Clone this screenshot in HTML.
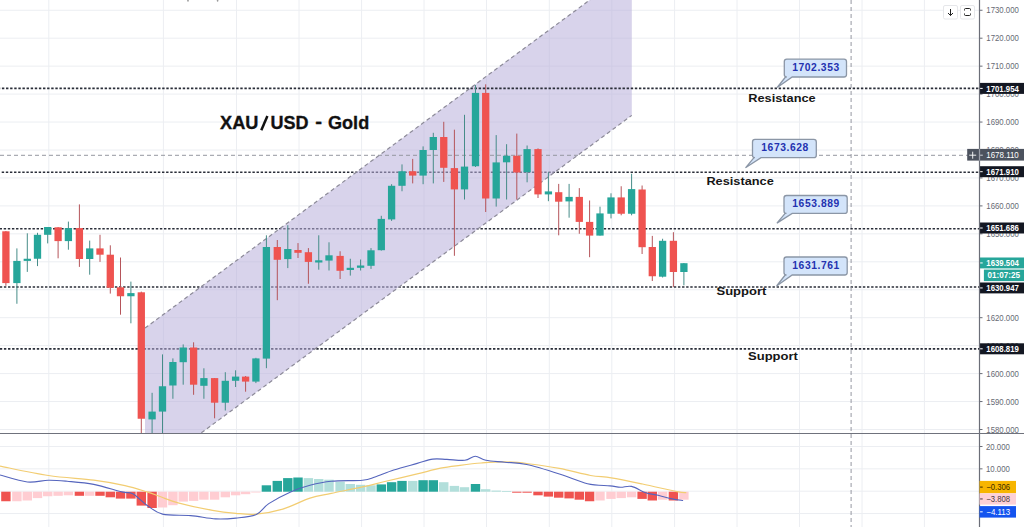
<!DOCTYPE html>
<html><head><meta charset="utf-8"><title>XAU/USD - Gold</title>
<style>
html,body{margin:0;padding:0;background:#fff;}
body{width:1024px;height:527px;overflow:hidden;font-family:"Liberation Sans",sans-serif;}
svg{display:block;}
text{font-family:"Liberation Sans",sans-serif;}
</style></head><body>
<svg width="1024" height="527" viewBox="0 0 1024 527">
<rect x="0" y="0" width="1024" height="527" fill="#ffffff"/>
<defs><clipPath id="mp"><rect x="0" y="0" width="979.5" height="433.5"/></clipPath><clipPath id="ip"><rect x="0" y="433.5" width="979.5" height="93.5"/></clipPath></defs>
<path d="M0 429.5 H979.5 M0 401.55 H979.5 M0 373.6 H979.5 M0 345.65 H979.5 M0 317.7 H979.5 M0 289.75 H979.5 M0 261.8 H979.5 M0 233.85 H979.5 M0 205.9 H979.5 M0 177.95 H979.5 M0 150 H979.5 M0 122.05 H979.5 M0 94.1 H979.5 M0 66.15 H979.5 M0 38.2 H979.5 M0 10.25 H979.5 M48.8 0 V527 M163.4 0 V527 M236.5 0 V527 M299 0 V527 M361.6 0 V527 M424 0 V527 M486.5 0 V527 M549.3 0 V527 M611.8 0 V527 M674.6 0 V527 M737 0 V527 M799.5 0 V527 M862 0 V527 M924.4 0 V527 M0 446.5 H979.5 M0 468.85 H979.5 M0 491.2 H979.5 M0 513.55 H979.5" stroke="#eceef2" stroke-width="1" fill="none"/>
<path d="M0 172.3 H979.5" stroke="#2a2e39" stroke-width="1.6" stroke-dasharray="2.4 1.71" stroke-dashoffset="2.4" fill="none"/>
<path d="M0 228.7 H979.5" stroke="#2a2e39" stroke-width="1.6" stroke-dasharray="2.4 1.71" stroke-dashoffset="0.4" fill="none"/>
<path d="M0 287 H979.5" stroke="#2a2e39" stroke-width="1.6" stroke-dasharray="2.4 1.71" stroke-dashoffset="0.2" fill="none"/>
<path d="M0 348.9 H979.5" stroke="#2a2e39" stroke-width="1.6" stroke-dasharray="2.4 1.71" stroke-dashoffset="0.2" fill="none"/>
<g clip-path="url(#mp)">
<polygon points="145,328.05 631.8,-30.97 631.8,115.36 145,474.37" fill="#b8afdb" fill-opacity="0.55"/>
<path d="M145 328.05 L631.8 -30.97 M145 474.37 L631.8 115.36" stroke="#8c8a98" stroke-width="1.2" stroke-dasharray="4 3" fill="none"/>
</g>
<path d="M0 88.4 H979.5" stroke="#2a2e39" stroke-width="1.6" stroke-dasharray="2.4 1.71" stroke-dashoffset="2.2" fill="none"/>
<path d="M851.1 0 V527 M0 155.3 H979.5" stroke="#9598a1" stroke-width="1" stroke-dasharray="4 3" fill="none"/>
<g clip-path="url(#mp)">
<path d="M5.9 231 V285.8" stroke="#b5545a" stroke-width="1"/><rect x="2.25" y="231.3" width="7.3" height="51.8" fill="#ef5350"/>
<path d="M16.9 248.4 V303.75" stroke="#468c88" stroke-width="1"/><rect x="13.25" y="260.9" width="7.3" height="22.2" fill="#26a69a"/>
<path d="M27.3 233.3 V271.9" stroke="#468c88" stroke-width="1"/><rect x="23.65" y="258.75" width="7.3" height="2.15" fill="#26a69a"/>
<path d="M37.5 232.8 V266.1" stroke="#468c88" stroke-width="1"/><rect x="33.85" y="234.8" width="7.3" height="23.95" fill="#26a69a"/>
<path d="M47.7 227 V243.4" stroke="#468c88" stroke-width="1"/><rect x="44.05" y="227" width="7.3" height="7.8" fill="#26a69a"/>
<path d="M58.1 227 V258.3" stroke="#b5545a" stroke-width="1"/><rect x="54.45" y="227.3" width="7.3" height="13.8" fill="#ef5350"/>
<path d="M68.4 221.6 V249.7" stroke="#468c88" stroke-width="1"/><rect x="64.75" y="228.1" width="7.3" height="13" fill="#26a69a"/>
<path d="M79.4 204.4 V266.9" stroke="#b5545a" stroke-width="1"/><rect x="75.75" y="228.1" width="7.3" height="30.9" fill="#ef5350"/>
<path d="M89.7 240.6 V274.7" stroke="#468c88" stroke-width="1"/><rect x="86.05" y="248.4" width="7.3" height="10.6" fill="#26a69a"/>
<path d="M100 234.8 V261.9" stroke="#b5545a" stroke-width="1"/><rect x="96.35" y="248.4" width="7.3" height="6.3" fill="#ef5350"/>
<path d="M110.3 245.3 V293.6" stroke="#b5545a" stroke-width="1"/><rect x="106.65" y="254.7" width="7.3" height="33.1" fill="#ef5350"/>
<path d="M120.5 257.5 V314.7" stroke="#b5545a" stroke-width="1"/><rect x="116.85" y="287.3" width="7.3" height="8.95" fill="#ef5350"/>
<path d="M130.9 281.6 V323.3" stroke="#468c88" stroke-width="1"/><rect x="127.25" y="293.1" width="7.3" height="3.15" fill="#26a69a"/>
<path d="M141.3 291.6 V440" stroke="#b5545a" stroke-width="1"/><rect x="137.65" y="292.3" width="7.3" height="126.45" fill="#ef5350"/>
<path d="M152.1 392.8 V440" stroke="#468c88" stroke-width="1"/><rect x="148.45" y="411.6" width="7.3" height="7.8" fill="#26a69a"/>
<path d="M162.5 354.4 V440" stroke="#468c88" stroke-width="1"/><rect x="158.85" y="386.25" width="7.3" height="25.35" fill="#26a69a"/>
<path d="M172.9 358.4 V398.75" stroke="#468c88" stroke-width="1"/><rect x="169.25" y="362" width="7.3" height="23.5" fill="#26a69a"/>
<path d="M183.2 344.4 V384.7" stroke="#468c88" stroke-width="1"/><rect x="179.55" y="347.5" width="7.3" height="14.7" fill="#26a69a"/>
<path d="M193.6 342.3 V394.8" stroke="#b5545a" stroke-width="1"/><rect x="189.95" y="347.5" width="7.3" height="37.2" fill="#ef5350"/>
<path d="M203.9 368.3 V398.75" stroke="#468c88" stroke-width="1"/><rect x="200.25" y="378.1" width="7.3" height="7.7" fill="#26a69a"/>
<path d="M214.6 378 V418.3" stroke="#b5545a" stroke-width="1"/><rect x="210.95" y="378.1" width="7.3" height="24.6" fill="#ef5350"/>
<path d="M225.3 372.2 V410.5" stroke="#468c88" stroke-width="1"/><rect x="221.65" y="380.8" width="7.3" height="21.9" fill="#26a69a"/>
<path d="M235.6 370.3 V387" stroke="#468c88" stroke-width="1"/><rect x="231.95" y="376.6" width="7.3" height="4.2" fill="#26a69a"/>
<path d="M245.6 376 V391.7" stroke="#b5545a" stroke-width="1"/><rect x="241.95" y="376.6" width="7.3" height="5" fill="#ef5350"/>
<path d="M255.9 357.8 V383.1" stroke="#468c88" stroke-width="1"/><rect x="252.25" y="358.4" width="7.3" height="23.2" fill="#26a69a"/>
<path d="M266.4 235.3 V368.2" stroke="#468c88" stroke-width="1"/><rect x="262.75" y="247" width="7.3" height="111.6" fill="#26a69a"/>
<path d="M277.3 240 V300.2" stroke="#b5545a" stroke-width="1"/><rect x="273.65" y="247" width="7.3" height="12.8" fill="#ef5350"/>
<path d="M287.8 225.2 V268.1" stroke="#468c88" stroke-width="1"/><rect x="284.15" y="249" width="7.3" height="10.1" fill="#26a69a"/>
<path d="M298 243.1 V258" stroke="#b5545a" stroke-width="1"/><rect x="294.35" y="250" width="7.3" height="2.8" fill="#ef5350"/>
<path d="M308.4 248.1 V283.75" stroke="#b5545a" stroke-width="1"/><rect x="304.75" y="252.2" width="7.3" height="9.7" fill="#ef5350"/>
<path d="M318.75 235.3 V269.7" stroke="#468c88" stroke-width="1"/><rect x="315.1" y="260.3" width="7.3" height="2.2" fill="#26a69a"/>
<path d="M329 242.3 V270.5" stroke="#468c88" stroke-width="1"/><rect x="325.35" y="255.3" width="7.3" height="5.3" fill="#26a69a"/>
<path d="M340.1 251.25 V279" stroke="#b5545a" stroke-width="1"/><rect x="336.45" y="255.9" width="7.3" height="14.9" fill="#ef5350"/>
<path d="M350.3 258.75 V275.6" stroke="#468c88" stroke-width="1"/><rect x="346.65" y="267.8" width="7.3" height="2.2" fill="#26a69a"/>
<path d="M360.6 259.5 V270.5" stroke="#468c88" stroke-width="1"/><rect x="356.95" y="265.5" width="7.3" height="2.3" fill="#26a69a"/>
<path d="M371 248.1 V268.9" stroke="#468c88" stroke-width="1"/><rect x="367.35" y="250.3" width="7.3" height="15.5" fill="#26a69a"/>
<path d="M381.3 215.8 V250.6" stroke="#468c88" stroke-width="1"/><rect x="377.65" y="218.9" width="7.3" height="31.3" fill="#26a69a"/>
<path d="M391.6 184.2 V220.9" stroke="#468c88" stroke-width="1"/><rect x="387.95" y="185.8" width="7.3" height="33.6" fill="#26a69a"/>
<path d="M402 164.4 V191.25" stroke="#468c88" stroke-width="1"/><rect x="398.35" y="171.25" width="7.3" height="14.55" fill="#26a69a"/>
<path d="M412.7 158.9 V183.4" stroke="#b5545a" stroke-width="1"/><rect x="409.05" y="171.25" width="7.3" height="4.35" fill="#ef5350"/>
<path d="M423.1 146.4 V184.2" stroke="#468c88" stroke-width="1"/><rect x="419.45" y="150" width="7.3" height="25.6" fill="#26a69a"/>
<path d="M433.3 132.8 V183.4" stroke="#468c88" stroke-width="1"/><rect x="429.65" y="137" width="7.3" height="13" fill="#26a69a"/>
<path d="M443.75 121.8 V181.9" stroke="#b5545a" stroke-width="1"/><rect x="440.1" y="137" width="7.3" height="30.8" fill="#ef5350"/>
<path d="M454.4 129.7 V255.8" stroke="#b5545a" stroke-width="1"/><rect x="450.75" y="168.1" width="7.3" height="21.3" fill="#ef5350"/>
<path d="M464.5 114.8 V199.5" stroke="#468c88" stroke-width="1"/><rect x="460.85" y="166.6" width="7.3" height="22.8" fill="#26a69a"/>
<path d="M475.5 85.1 V167" stroke="#468c88" stroke-width="1"/><rect x="471.85" y="92.9" width="7.3" height="73.35" fill="#26a69a"/>
<path d="M485.7 84.3 V212" stroke="#b5545a" stroke-width="1"/><rect x="482.05" y="92.9" width="7.3" height="105.6" fill="#ef5350"/>
<path d="M496.2 135.1 V206.6" stroke="#468c88" stroke-width="1"/><rect x="492.55" y="162.4" width="7.3" height="36.1" fill="#26a69a"/>
<path d="M506.6 144.2 V199.5" stroke="#468c88" stroke-width="1"/><rect x="502.95" y="155.75" width="7.3" height="6.55" fill="#26a69a"/>
<path d="M516.8 133.6 V199.5" stroke="#b5545a" stroke-width="1"/><rect x="513.15" y="155.75" width="7.3" height="16.75" fill="#ef5350"/>
<path d="M527.1 145.5 V182.3" stroke="#468c88" stroke-width="1"/><rect x="523.45" y="149.1" width="7.3" height="23.1" fill="#26a69a"/>
<path d="M538 148.4 V198" stroke="#b5545a" stroke-width="1"/><rect x="534.35" y="149.1" width="7.3" height="45.3" fill="#ef5350"/>
<path d="M548.4 172.2 V201.2" stroke="#468c88" stroke-width="1"/><rect x="544.75" y="191.4" width="7.3" height="3" fill="#26a69a"/>
<path d="M558.7 183.9 V235.3" stroke="#b5545a" stroke-width="1"/><rect x="555.05" y="192.2" width="7.3" height="9.5" fill="#ef5350"/>
<path d="M569.1 183.9 V217.7" stroke="#468c88" stroke-width="1"/><rect x="565.45" y="196.9" width="7.3" height="4.5" fill="#26a69a"/>
<path d="M579.3 188.1 V233.75" stroke="#b5545a" stroke-width="1"/><rect x="575.65" y="196.9" width="7.3" height="25" fill="#ef5350"/>
<path d="M589.6 200.5 V257.2" stroke="#b5545a" stroke-width="1"/><rect x="585.95" y="221.9" width="7.3" height="13.7" fill="#ef5350"/>
<path d="M600 206.7 V235.6" stroke="#468c88" stroke-width="1"/><rect x="596.35" y="213.4" width="7.3" height="22.2" fill="#26a69a"/>
<path d="M611 193.3 V218.4" stroke="#468c88" stroke-width="1"/><rect x="607.35" y="197.4" width="7.3" height="16.35" fill="#26a69a"/>
<path d="M621.2 186.25 V215.3" stroke="#b5545a" stroke-width="1"/><rect x="617.55" y="197.4" width="7.3" height="16.35" fill="#ef5350"/>
<path d="M631.6 173.75 V215.3" stroke="#468c88" stroke-width="1"/><rect x="627.95" y="189.1" width="7.3" height="24.65" fill="#26a69a"/>
<path d="M642.1 185.5 V254" stroke="#b5545a" stroke-width="1"/><rect x="638.45" y="189.5" width="7.3" height="57.7" fill="#ef5350"/>
<path d="M652.3 235.9 V281" stroke="#b5545a" stroke-width="1"/><rect x="648.65" y="247" width="7.3" height="29.25" fill="#ef5350"/>
<path d="M662.6 238.75 V277.5" stroke="#468c88" stroke-width="1"/><rect x="658.95" y="240.8" width="7.3" height="35.9" fill="#26a69a"/>
<path d="M673.4 232.2 V286.9" stroke="#b5545a" stroke-width="1"/><rect x="669.75" y="240.8" width="7.3" height="31.2" fill="#ef5350"/>
<path d="M683.9 263 V285.3" stroke="#468c88" stroke-width="1"/><rect x="680.25" y="263.2" width="7.3" height="8.8" fill="#26a69a"/>
</g>
<path d="M261.3 130.3 L267.4 115.9" stroke="#111" stroke-width="2.5" stroke-linecap="butt"/>
<text x="220.1" y="128.7" font-size="17.5" font-weight="bold" fill="#111" stroke="#111" stroke-width="0.3" textLength="38.4" lengthAdjust="spacingAndGlyphs">XAU</text>
<text x="270.4" y="128.7" font-size="17.5" font-weight="bold" fill="#111" stroke="#111" stroke-width="0.3" textLength="38" lengthAdjust="spacingAndGlyphs">USD</text>
<text x="315.2" y="128.4" font-size="17.5" font-weight="bold" fill="#111" stroke="#111" stroke-width="0.3" textLength="6.8" lengthAdjust="spacingAndGlyphs">-</text>
<text x="328" y="128.7" font-size="17.5" font-weight="bold" fill="#111" stroke="#111" stroke-width="0.3" textLength="41.2" lengthAdjust="spacingAndGlyphs">Gold</text>
<text x="748.3" y="102.4" font-size="11" font-weight="bold" fill="#161616" textLength="67.4" lengthAdjust="spacingAndGlyphs">Resistance</text>
<text x="706.4" y="184.5" font-size="11" font-weight="bold" fill="#161616" textLength="67.4" lengthAdjust="spacingAndGlyphs">Resistance</text>
<text x="716.5" y="294.6" font-size="11" font-weight="bold" fill="#161616" textLength="49.8" lengthAdjust="spacingAndGlyphs">Support</text>
<text x="748" y="359.8" font-size="11" font-weight="bold" fill="#161616" textLength="49.9" lengthAdjust="spacingAndGlyphs">Support</text>
<path d="M786.8 59.1 H844 Q846.5 59.1 846.5 61.6 V74.5 Q846.5 77 844 77 H792.2 L777.2 87.5 L785.5 77 H786.8 Q784.3 77 784.3 74.5 V61.6 Q784.3 59.1 786.8 59.1 Z" fill="#d3e4fa" stroke="#8b96a6" stroke-width="1.3"/>
<text x="792.2" y="70.6" font-size="10.3" font-weight="bold" fill="#2331b0" textLength="47" lengthAdjust="spacing">1702.353</text>
<path d="M755 139.4 H813.8 Q816.3 139.4 816.3 141.9 V155.2 Q816.3 157.7 813.8 157.7 H761 L745.5 167.8 L754 157.7 H755 Q752.5 157.7 752.5 155.2 V141.9 Q752.5 139.4 755 139.4 Z" fill="#d3e4fa" stroke="#8b96a6" stroke-width="1.3"/>
<text x="761.3" y="151.4" font-size="10.3" font-weight="bold" fill="#2331b0" textLength="47" lengthAdjust="spacing">1673.628</text>
<path d="M786.5 195.5 H844.7 Q847.2 195.5 847.2 198 V210.9 Q847.2 213.4 844.7 213.4 H792.2 L776.9 223.1 L785.2 213.4 H786.5 Q784 213.4 784 210.9 V198 Q784 195.5 786.5 195.5 Z" fill="#d3e4fa" stroke="#8b96a6" stroke-width="1.3"/>
<text x="792.3" y="206.9" font-size="10.3" font-weight="bold" fill="#2331b0" textLength="47" lengthAdjust="spacing">1653.889</text>
<path d="M786.5 257 H844.7 Q847.2 257 847.2 259.5 V272.5 Q847.2 275 844.7 275 H792.2 L776.6 286 L785.2 275 H786.5 Q784 275 784 272.5 V259.5 Q784 257 786.5 257 Z" fill="#d3e4fa" stroke="#8b96a6" stroke-width="1.3"/>
<text x="792.3" y="268.75" font-size="10.3" font-weight="bold" fill="#2331b0" textLength="47" lengthAdjust="spacing">1631.761</text>
<rect x="979.5" y="0" width="44.5" height="527" fill="#ffffff"/>
<text x="986.3" y="432.6" font-size="8.6" fill="#666973" textLength="32.5" lengthAdjust="spacingAndGlyphs">1580.000</text>
<text x="986.3" y="404.65" font-size="8.6" fill="#666973" textLength="32.5" lengthAdjust="spacingAndGlyphs">1590.000</text>
<text x="986.3" y="376.7" font-size="8.6" fill="#666973" textLength="32.5" lengthAdjust="spacingAndGlyphs">1600.000</text>
<text x="986.3" y="348.75" font-size="8.6" fill="#666973" textLength="32.5" lengthAdjust="spacingAndGlyphs">1610.000</text>
<text x="986.3" y="320.8" font-size="8.6" fill="#666973" textLength="32.5" lengthAdjust="spacingAndGlyphs">1620.000</text>
<text x="986.3" y="292.85" font-size="8.6" fill="#666973" textLength="32.5" lengthAdjust="spacingAndGlyphs">1630.000</text>
<text x="986.3" y="264.9" font-size="8.6" fill="#666973" textLength="32.5" lengthAdjust="spacingAndGlyphs">1640.000</text>
<text x="986.3" y="236.95" font-size="8.6" fill="#666973" textLength="32.5" lengthAdjust="spacingAndGlyphs">1650.000</text>
<text x="986.3" y="209" font-size="8.6" fill="#666973" textLength="32.5" lengthAdjust="spacingAndGlyphs">1660.000</text>
<text x="986.3" y="181.05" font-size="8.6" fill="#666973" textLength="32.5" lengthAdjust="spacingAndGlyphs">1670.000</text>
<text x="986.3" y="153.1" font-size="8.6" fill="#666973" textLength="32.5" lengthAdjust="spacingAndGlyphs">1680.000</text>
<text x="986.3" y="125.15" font-size="8.6" fill="#666973" textLength="32.5" lengthAdjust="spacingAndGlyphs">1690.000</text>
<text x="986.3" y="97.2" font-size="8.6" fill="#666973" textLength="32.5" lengthAdjust="spacingAndGlyphs">1700.000</text>
<text x="986.3" y="69.25" font-size="8.6" fill="#666973" textLength="32.5" lengthAdjust="spacingAndGlyphs">1710.000</text>
<text x="986.3" y="41.3" font-size="8.6" fill="#666973" textLength="32.5" lengthAdjust="spacingAndGlyphs">1720.000</text>
<text x="986.3" y="13.35" font-size="8.6" fill="#666973" textLength="32.5" lengthAdjust="spacingAndGlyphs">1730.000</text>
<text x="986" y="449.6" font-size="8.6" fill="#666973" textLength="23.9" lengthAdjust="spacingAndGlyphs">20.000</text>
<text x="986" y="471.95" font-size="8.6" fill="#666973" textLength="23.9" lengthAdjust="spacingAndGlyphs">10.000</text>
<path d="M979.5 429.5 h3 M979.5 401.55 h3 M979.5 373.6 h3 M979.5 345.65 h3 M979.5 317.7 h3 M979.5 289.75 h3 M979.5 261.8 h3 M979.5 233.85 h3 M979.5 205.9 h3 M979.5 177.95 h3 M979.5 150 h3 M979.5 122.05 h3 M979.5 94.1 h3 M979.5 66.15 h3 M979.5 38.2 h3 M979.5 10.25 h3 M979.5 446.5 h3 M979.5 468.85 h3" stroke="#6b6e78" stroke-width="1" fill="none"/>
<rect x="979.5" y="82.9" width="44.5" height="11" fill="#131722"/><path d="M980.1 88.4 h2.6" stroke="#ffffff" stroke-width="1"/><text x="986.3" y="91.5" font-size="8.6" font-weight="bold" fill="#ffffff" textLength="32.5" lengthAdjust="spacingAndGlyphs">1701.954</text>
<rect x="967.2" y="148.9" width="56.8" height="11.7" fill="#4c525e"/><path d="M972.7 151.7 V158.7 M969.2 155.2 H976.2" stroke="#ffffff" stroke-width="0.9"/><text x="986.3" y="158.2" font-size="8.6" fill="#ffffff" textLength="32.5" lengthAdjust="spacingAndGlyphs">1678.110</text>
<rect x="979.5" y="166.2" width="44.5" height="11" fill="#131722"/><path d="M980.1 171.7 h2.6" stroke="#ffffff" stroke-width="1"/><text x="986.3" y="174.8" font-size="8.6" font-weight="bold" fill="#ffffff" textLength="32.5" lengthAdjust="spacingAndGlyphs">1671.910</text>
<rect x="979.5" y="222.5" width="44.5" height="11" fill="#131722"/><path d="M980.1 228 h2.6" stroke="#ffffff" stroke-width="1"/><text x="986.3" y="231.1" font-size="8.6" font-weight="bold" fill="#ffffff" textLength="32.5" lengthAdjust="spacingAndGlyphs">1651.686</text>
<rect x="979.5" y="257.5" width="44.5" height="10.9" fill="#26a69a"/><path d="M980.1 262.95 h2.6" stroke="#ffffff" stroke-width="1"/><text x="986.3" y="266.05" font-size="8.6" font-weight="bold" fill="#ffffff" textLength="32.5" lengthAdjust="spacingAndGlyphs">1639.504</text>
<rect x="983.9" y="269.6" width="40.1" height="11.5" fill="#26a69a"/><text x="987.5" y="278.45" font-size="8.6" font-weight="bold" fill="#ffffff" textLength="32.5" lengthAdjust="spacingAndGlyphs">01:07:25</text>
<rect x="979.5" y="282.5" width="44.5" height="10.9" fill="#131722"/><path d="M980.1 287.95 h2.6" stroke="#ffffff" stroke-width="1"/><text x="986.3" y="291.05" font-size="8.6" font-weight="bold" fill="#ffffff" textLength="32.5" lengthAdjust="spacingAndGlyphs">1630.947</text>
<rect x="979.5" y="343.3" width="44.5" height="11" fill="#131722"/><path d="M980.1 348.8 h2.6" stroke="#ffffff" stroke-width="1"/><text x="986.3" y="351.9" font-size="8.6" font-weight="bold" fill="#ffffff" textLength="32.5" lengthAdjust="spacingAndGlyphs">1608.819</text>
<path d="M979.5 0 V527" stroke="#6b6e78" stroke-width="1.2"/>
<path d="M979.5 148.9 V160.6" stroke="#9a9ea8" stroke-width="1.2"/><path d="M980.2 155.2 h2.6" stroke="#d0d3da" stroke-width="1"/>
<rect x="943.5" y="5.5" width="14" height="13.5" rx="1.5" fill="#ffffff" stroke="#e6e7ea" stroke-width="1"/><path d="M950.5 9 V15.5 M948 13 L950.5 15.5 L953 13" stroke="#222" stroke-width="1" fill="none"/><rect x="960.5" y="5.5" width="14" height="13.5" rx="1.5" fill="#ffffff" stroke="#e6e7ea" stroke-width="1"/><path d="M964.5 10.5 V9.5 Q964.5 8.5 965.5 8.5 H969.5 Q970.5 8.5 970.5 9.5 V10.5 M964.5 13.5 V14.5 Q964.5 15.5 965.5 15.5 H969.5 Q970.5 15.5 970.5 14.5 V13.5" stroke="#222" stroke-width="1" fill="none"/>
<ellipse cx="188" cy="0.6" rx="0.8" ry="1.2" fill="#9a9a9a"/><ellipse cx="217.6" cy="0.6" rx="0.8" ry="1.2" fill="#9a9a9a"/>
<path d="M0 433.5 H1024" stroke="#6f727c" stroke-width="1"/>
<g clip-path="url(#ip)">
<rect x="1.2" y="491.7" width="9.4" height="9.55" fill="#ef5350"/><rect x="12.2" y="491.7" width="9.4" height="9.55" fill="#ffcdd2"/><rect x="22.6" y="491.7" width="9.4" height="8.8" fill="#ffcdd2"/><rect x="32.8" y="491.7" width="9.4" height="6.4" fill="#ffcdd2"/><rect x="43" y="491.7" width="9.4" height="4.55" fill="#ffcdd2"/><rect x="53.4" y="491.7" width="9.4" height="4.1" fill="#ffcdd2"/><rect x="63.7" y="491.7" width="9.4" height="3.6" fill="#ffcdd2"/><rect x="74.7" y="491.7" width="9.4" height="4.1" fill="#ef5350"/><rect x="85" y="491.7" width="9.4" height="4.1" fill="#ffcdd2"/><rect x="95.3" y="491.7" width="9.4" height="4.1" fill="#ef5350"/><rect x="105.6" y="491.7" width="9.4" height="5.6" fill="#ef5350"/><rect x="115.8" y="491.7" width="9.4" height="6.9" fill="#ef5350"/><rect x="126.2" y="491.7" width="9.4" height="6.9" fill="#ef5350"/><rect x="136.6" y="491.7" width="9.4" height="13.9" fill="#ef5350"/><rect x="147.4" y="491.7" width="9.4" height="16.3" fill="#ef5350"/><rect x="157.8" y="491.7" width="9.4" height="15.8" fill="#ffcdd2"/><rect x="168.2" y="491.7" width="9.4" height="13.5" fill="#ffcdd2"/><rect x="178.5" y="491.7" width="9.4" height="9.9" fill="#ffcdd2"/><rect x="188.9" y="491.7" width="9.4" height="9.2" fill="#ffcdd2"/><rect x="199.2" y="491.7" width="9.4" height="8" fill="#ffcdd2"/><rect x="209.9" y="491.7" width="9.4" height="8" fill="#ffcdd2"/><rect x="220.6" y="491.7" width="9.4" height="5.6" fill="#ffcdd2"/><rect x="230.9" y="491.7" width="9.4" height="3.6" fill="#ffcdd2"/><rect x="240.9" y="491.7" width="9.4" height="2.5" fill="#ffcdd2"/><rect x="251.2" y="491.7" width="9.4" height="0.8" fill="#ffcdd2"/><rect x="261.7" y="485.3" width="9.4" height="6.4" fill="#26a69a"/><rect x="272.6" y="480.9" width="9.4" height="10.8" fill="#26a69a"/><rect x="283.1" y="478.1" width="9.4" height="13.6" fill="#26a69a"/><rect x="293.3" y="477.5" width="9.4" height="14.2" fill="#26a69a"/><rect x="303.7" y="478.1" width="9.4" height="13.6" fill="#b2dfdb"/><rect x="314.05" y="479" width="9.4" height="12.7" fill="#b2dfdb"/><rect x="324.3" y="479.7" width="9.4" height="12" fill="#b2dfdb"/><rect x="335.4" y="481.7" width="9.4" height="10" fill="#b2dfdb"/><rect x="345.6" y="484" width="9.4" height="7.7" fill="#b2dfdb"/><rect x="355.9" y="484.8" width="9.4" height="6.9" fill="#b2dfdb"/><rect x="366.3" y="485.3" width="9.4" height="6.4" fill="#b2dfdb"/><rect x="376.6" y="484.4" width="9.4" height="7.3" fill="#26a69a"/><rect x="386.9" y="482.2" width="9.4" height="9.5" fill="#26a69a"/><rect x="397.3" y="480.9" width="9.4" height="10.8" fill="#26a69a"/><rect x="408" y="480.9" width="9.4" height="10.8" fill="#b2dfdb"/><rect x="418.4" y="480.2" width="9.4" height="11.5" fill="#26a69a"/><rect x="428.6" y="480.2" width="9.4" height="11.5" fill="#26a69a"/><rect x="439.05" y="482.2" width="9.4" height="9.5" fill="#b2dfdb"/><rect x="449.7" y="485.9" width="9.4" height="5.8" fill="#b2dfdb"/><rect x="459.8" y="487.2" width="9.4" height="4.5" fill="#b2dfdb"/><rect x="470.8" y="484" width="9.4" height="7.7" fill="#26a69a"/><rect x="481" y="489.2" width="9.4" height="2.5" fill="#b2dfdb"/><rect x="491.5" y="490.6" width="9.4" height="1.1" fill="#b2dfdb"/><rect x="501.9" y="491.2" width="9.4" height="0.8" fill="#b2dfdb"/><rect x="512.1" y="491.7" width="9.4" height="1" fill="#ef5350"/><rect x="522.4" y="491.7" width="9.4" height="1" fill="#ef5350"/><rect x="533.3" y="491.7" width="9.4" height="3.6" fill="#ef5350"/><rect x="543.7" y="491.7" width="9.4" height="4.9" fill="#ef5350"/><rect x="554" y="491.7" width="9.4" height="6" fill="#ef5350"/><rect x="564.4" y="491.7" width="9.4" height="6.7" fill="#ef5350"/><rect x="574.6" y="491.7" width="9.4" height="8" fill="#ef5350"/><rect x="584.9" y="491.7" width="9.4" height="9.55" fill="#ef5350"/><rect x="595.3" y="491.7" width="9.4" height="8.8" fill="#ffcdd2"/><rect x="606.3" y="491.7" width="9.4" height="7.2" fill="#ffcdd2"/><rect x="616.5" y="491.7" width="9.4" height="6.4" fill="#ffcdd2"/><rect x="626.9" y="491.7" width="9.4" height="5.6" fill="#ffcdd2"/><rect x="637.4" y="491.7" width="9.4" height="7.2" fill="#ef5350"/><rect x="647.6" y="491.7" width="9.4" height="8.8" fill="#ef5350"/><rect x="657.9" y="491.7" width="9.4" height="8" fill="#ffcdd2"/><rect x="668.7" y="491.7" width="9.4" height="8.8" fill="#ef5350"/><rect x="679.2" y="491.7" width="9.4" height="8" fill="#ffcdd2"/>
<path d="M0 466.1 C8.07 467.67 32.77 473.15 48.4 475.5 C64.03 477.85 80.98 478.52 93.75 480.2 C106.52 481.88 116.14 483.65 125 485.6 C133.86 487.55 141.07 490.08 146.9 491.9 C152.73 493.72 154.8 494.68 160 496.5 C165.2 498.32 169.35 500.5 178.1 502.8 C186.85 505.1 202.87 508.55 212.5 510.3 C222.13 512.05 228.61 512.67 235.9 513.3 C243.19 513.93 248.43 514.8 256.25 514.1 C264.07 513.4 273.84 511.77 282.8 509.1 C291.76 506.43 301.93 500.72 310 498.1 C318.07 495.48 322.5 495.27 331.25 493.4 C340 491.53 353.39 488.92 362.5 486.9 C371.61 484.88 376.78 483.42 385.9 481.25 C395.02 479.08 408.08 476.09 417.2 473.9 C426.32 471.71 433.47 469.53 440.6 468.1 C447.73 466.67 453.23 466.15 460 465.3 C466.77 464.45 473.8 463.57 481.25 463 C488.7 462.43 496.89 461.77 504.7 461.9 C512.51 462.02 518.98 462.67 528.1 463.75 C537.22 464.83 548.98 466.44 559.4 468.4 C569.82 470.36 581.96 473.93 590.6 475.5 C599.24 477.07 602.6 476.38 611.25 477.8 C619.9 479.22 631.56 481.7 642.5 484 C653.44 486.3 669.61 490.15 676.9 491.6 C684.19 493.05 684.69 492.52 686.25 492.7" fill="none" stroke="#f2cd72" stroke-width="1.25"/>
<path d="M0 475 C4.55 476.17 19.23 481.13 27.3 482 C35.37 482.87 41.75 480.32 48.4 480.2 C55.05 480.07 59.64 480.55 67.2 481.25 C74.76 481.95 84.63 482.62 93.75 484.4 C102.87 486.17 115.39 490.34 121.9 491.9 C128.41 493.46 128.63 491.53 132.8 493.75 C136.97 495.97 141.95 501.81 146.9 505.2 C151.85 508.59 155.22 512.37 162.5 514.1 C169.78 515.83 181.75 514.8 190.6 515.6 C199.45 516.4 208.05 518.48 215.6 518.9 C223.15 519.32 229.12 518.83 235.9 518.1 C242.68 517.37 250.78 516.92 256.25 514.5 C261.73 512.08 263.02 507.37 268.75 503.6 C274.48 499.83 283.73 494.95 290.6 491.9 C297.48 488.85 303.23 487.07 310 485.3 C316.77 483.53 322.5 482.1 331.25 481.25 C340 480.4 355.21 480.91 362.5 480.2 C369.79 479.49 369.79 478.7 375 477 C380.21 475.3 386.72 472.27 393.75 470 C400.78 467.73 410.69 465.22 417.2 463.4 C423.71 461.58 427.85 459.77 432.8 459.1 C437.75 458.43 441.57 459.2 446.9 459.4 C452.23 459.6 460.07 460.82 464.8 460.3 C469.53 459.78 471.78 456.25 475.3 456.25 C478.82 456.25 481 459.31 485.9 460.3 C490.8 461.29 497.92 461.5 504.7 462.2 C511.48 462.9 517.48 462.55 526.6 464.5 C535.72 466.45 549.25 470.69 559.4 473.9 C569.55 477.11 579.07 481.75 587.5 483.75 C595.93 485.75 604.48 485.32 610 485.9 C615.52 486.47 617 487.12 620.6 487.2 C624.2 487.28 627.43 485.48 631.6 486.4 C635.77 487.32 641.18 491.22 645.6 492.7 C650.02 494.18 653.67 494.27 658.1 495.3 C662.53 496.33 668.03 498.03 672.2 498.9 C676.37 499.77 681.28 500.23 683.1 500.5" fill="none" stroke="#5565bd" stroke-width="1.1"/>
</g>
<rect x="979.5" y="480.9" width="36.5" height="12.4" fill="#f7b500"/><path d="M980.1 487.1 h2.6" stroke="#3a2a00" stroke-width="1"/><text x="986.3" y="490.2" font-size="8.6" fill="#3a2a00" textLength="23.8" lengthAdjust="spacingAndGlyphs">−0.306</text>
<rect x="979.5" y="493.3" width="36.5" height="11.3" fill="#fdd0d6"/><path d="M980.1 498.95 h2.6" stroke="#4a3a3e" stroke-width="1"/><text x="986.3" y="502.05" font-size="8.6" fill="#4a3a3e" textLength="23.8" lengthAdjust="spacingAndGlyphs">−3.808</text>
<rect x="979.5" y="506.1" width="36.5" height="11.5" fill="#1454ef"/><path d="M980.1 511.85 h2.6" stroke="#ffffff" stroke-width="1"/><text x="986.3" y="514.95" font-size="8.6" fill="#ffffff" textLength="23.8" lengthAdjust="spacingAndGlyphs">−4.113</text>
</svg>
</body></html>
